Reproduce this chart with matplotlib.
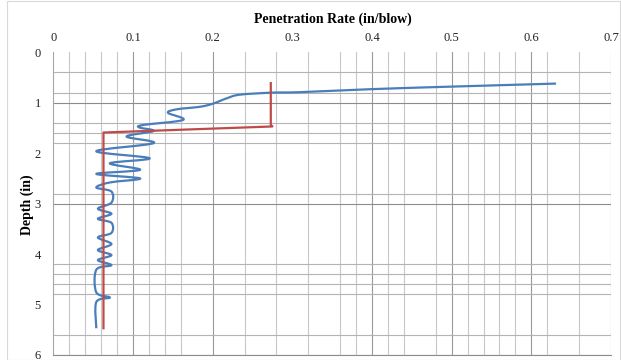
import matplotlib
matplotlib.use("Agg")
import matplotlib.pyplot as plt
from matplotlib.patches import Rectangle, PathPatch
from matplotlib.path import Path

# penetration rate (in/blow) vs depth (in)
blue_depth = [0.62, 0.68, 0.73, 0.79, 0.80, 0.84, 0.91, 1.02, 1.08, 1.13, 1.20, 1.34,
              1.44, 1.49, 1.56, 1.67, 1.80, 1.96, 2.10, 2.20, 2.33, 2.41, 2.50, 2.58,
              2.68, 2.76, 2.98, 3.10, 3.20, 3.30, 3.38, 3.58, 3.67, 3.80, 3.92, 4.02,
              4.12, 4.22, 4.31, 4.76, 4.86, 4.95, 5.47]
blue_rate = [0.631, 0.50, 0.40, 0.31, 0.274, 0.234, 0.218, 0.200, 0.184, 0.155, 0.144, 0.163,
             0.113, 0.108, 0.126, 0.092, 0.126, 0.054, 0.121, 0.071, 0.109, 0.054, 0.109, 0.071,
             0.054, 0.073, 0.073, 0.056, 0.073, 0.056, 0.073, 0.073, 0.056, 0.073, 0.056, 0.073,
             0.056, 0.073, 0.054, 0.054, 0.071, 0.054, 0.054]

red_depth = [0.61, 1.44, 1.47, 1.59, 1.65, 5.47]
red_rate = [0.273, 0.273, 0.275, 0.063, 0.063, 0.063]

x_ticks = [0, 0.1, 0.2, 0.3, 0.4, 0.5, 0.6, 0.7]
x_labels = ["0", "0.1", "0.2", "0.3", "0.4", "0.5", "0.6", "0.7"]
y_ticks = [0, 1, 2, 3, 4, 5, 6]

# gridlines as they show up in the picture
vgrid_major = [0.1, 0.2, 0.4, 0.5, 0.6, 0.7]
vgrid_minor = [0.02, 0.04, 0.06, 0.08, 0.12, 0.14, 0.16, 0.24, 0.28, 0.32, 0.36, 0.38,
               0.42, 0.44, 0.48, 0.52, 0.54, 0.56, 0.58, 0.62, 0.66]
hgrid_major = [1.0, 3.0, 6.0]
hgrid_minor = [0.4, 0.8, 1.4, 1.6, 1.8, 2.8, 4.2, 4.4, 4.6, 4.8, 5.6]


# smoothed line through the points (like a spreadsheet "smoothed line")
def smooth_path(xs, ys):
    pts = list(zip(xs, ys))
    verts = [pts[0]]
    codes = [Path.MOVETO]
    n = len(pts)
    for i in range(n - 1):
        p0 = pts[i - 1] if i > 0 else pts[i]
        p1 = pts[i]
        p2 = pts[i + 1]
        p3 = pts[i + 2] if i + 2 < n else pts[i + 1]
        c1 = (p1[0] + (p2[0] - p0[0]) / 6, p1[1] + (p2[1] - p0[1]) / 6)
        c2 = (p2[0] - (p3[0] - p1[0]) / 6, p2[1] - (p3[1] - p1[1]) / 6)
        verts += [c1, c2, p2]
        codes += [Path.CURVE4] * 3
    return Path(verts, codes)


plt.rcParams['font.family'] = ['Liberation Serif', 'DejaVu Serif']

fig = plt.figure(figsize=(6.21, 3.6), dpi=100)
ax = fig.add_axes([0.0858, 0.0139, 0.8981, 0.8408])

for v in vgrid_minor:
    ax.axvline(v, color='#c8c8c8', lw=0.8, zorder=0)
for v in vgrid_major:
    ax.axvline(v, color='#999999', lw=0.8, zorder=0)
for h in hgrid_minor:
    ax.axhline(h, color='#b4b4b4', lw=0.8, zorder=0)
for h in hgrid_major:
    ax.axhline(h, color='#8c8c8c', lw=0.8, zorder=0)

ax.add_patch(PathPatch(smooth_path(blue_rate, blue_depth), facecolor='none',
                       edgecolor='#4a7ebb', lw=1.6, joinstyle='round', zorder=3))
ax.plot(red_rate, red_depth, color='#be4b48', lw=1.6, solid_joinstyle='round', zorder=4)

ax.set_xlim(0, 0.7)
ax.set_ylim(6, 0)
ax.xaxis.tick_top()
ax.set_xticks(x_ticks)
ax.set_xticklabels(x_labels)
ax.set_yticks(y_ticks)
ax.tick_params(axis='both', length=0, labelsize=9, colors='#222222')
ax.tick_params(axis='x', pad=6)
ax.tick_params(axis='y', pad=9)

ax.spines['top'].set_visible(False)
ax.spines['right'].set_visible(False)
ax.spines['left'].set_color('#a6a6a6')
ax.spines['bottom'].set_color('#8c8c8c')
ax.spines['left'].set_linewidth(0.8)
ax.spines['bottom'].set_linewidth(0.8)

fig.text(333 / 621, 1 - 19 / 360, "Penetration Rate (in/blow)", ha='center', va='center',
         fontsize=10, fontweight='bold')
fig.text(27 / 621, 1 - 205 / 360, "Depth (in)", ha='center', va='center',
         rotation=90, fontsize=10, fontweight='bold')

# chart area border
fig.patches.append(Rectangle((6.5 / 621, 0.5 / 360), 613 / 621, 359 / 360,
                             transform=fig.transFigure, fill=False,
                             edgecolor='#d9d9d9', lw=0.8))

fig.savefig("out.png", dpi=100)
